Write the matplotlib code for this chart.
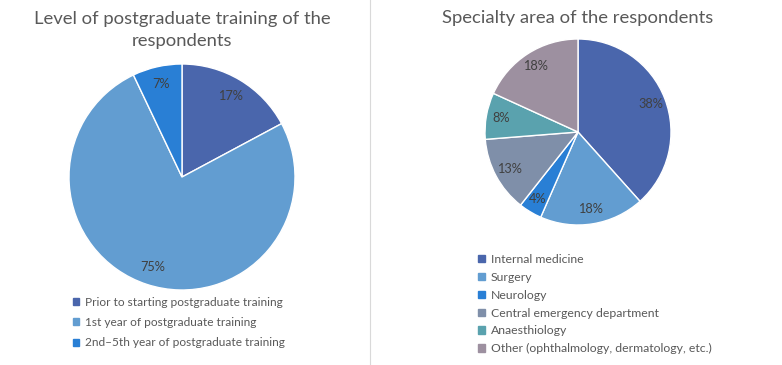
import matplotlib.pyplot as plt
from matplotlib.patches import Patch
from matplotlib.lines import Line2D

# data
level_labels = ["Prior to starting postgraduate training",
                "1st year of postgraduate training",
                "2nd\u20135th year of postgraduate training"]
level_values = [17, 75, 7]

spec_labels = ["Internal medicine", "Surgery", "Neurology",
               "Central emergency department", "Anaesthiology",
               "Other (ophthalmology, dermatology, etc.)"]
spec_values = [38, 18, 4, 13, 8, 18]

colors = ["#4A66AC", "#629DD1", "#297FD5", "#7F8FA9", "#5AA2AE", "#9D90A0"]
txt = "#595959"
plt.rcParams['font.family'] = ['Lato', 'DejaVu Sans']

W, H = 782, 365
fig = plt.figure(figsize=(W / 100, H / 100), dpi=100)


def px_axes(cx, cy, r):
    # axes positioned in pixel coords (y from top)
    return fig.add_axes([(cx - r) / W, (H - cy - r) / H, 2 * r / W, 2 * r / H])


def draw_pie(ax, values, cols):
    it = iter(values)
    wedges, _, autotexts = ax.pie(values, colors=cols, startangle=90, counterclock=False,
                                  autopct=lambda p: f"{next(it)}%", pctdistance=0.84,
                                  wedgeprops=dict(edgecolor="white", linewidth=1),
                                  textprops=dict(color="#404040", fontsize=9.2))
    ax.set_xlim(-1, 1)
    ax.set_ylim(-1, 1)
    return wedges


ax1 = px_axes(182, 177, 113)
draw_pie(ax1, level_values, colors[:3])
fig.text(182 / W, 1 - 30 / H, "Level of postgraduate training of the\nrespondents",
         ha="center", va="center", fontsize=13.3, color=txt, linespacing=1.45)
handles1 = [Patch(color=c) for c in colors[:3]]
fig.legend(handles1, level_labels, loc="upper left", bbox_to_anchor=(62 / W, 1 - 286 / H),
           frameon=False, fontsize=8.6, labelcolor=txt, handlelength=0.55, handleheight=0.55,
           handletextpad=0.5, labelspacing=0.78)

ax2 = px_axes(578, 132, 93)
draw_pie(ax2, spec_values, colors)
fig.text(578 / W, 1 - 18 / H, "Specialty area of the respondents",
         ha="center", va="center", fontsize=13.3, color=txt)
handles2 = [Patch(color=c) for c in colors]
fig.legend(handles2, spec_labels, loc="upper left", bbox_to_anchor=(467 / W, 1 - 243 / H),
           frameon=False, fontsize=8.8, labelcolor=txt, handlelength=0.55, handleheight=0.55,
           handletextpad=0.5, labelspacing=0.56)

fig.add_artist(Line2D([370 / W, 370 / W], [0, 1], color="#D9D9D9", linewidth=0.8))

fig.savefig("out.png", dpi=100)
